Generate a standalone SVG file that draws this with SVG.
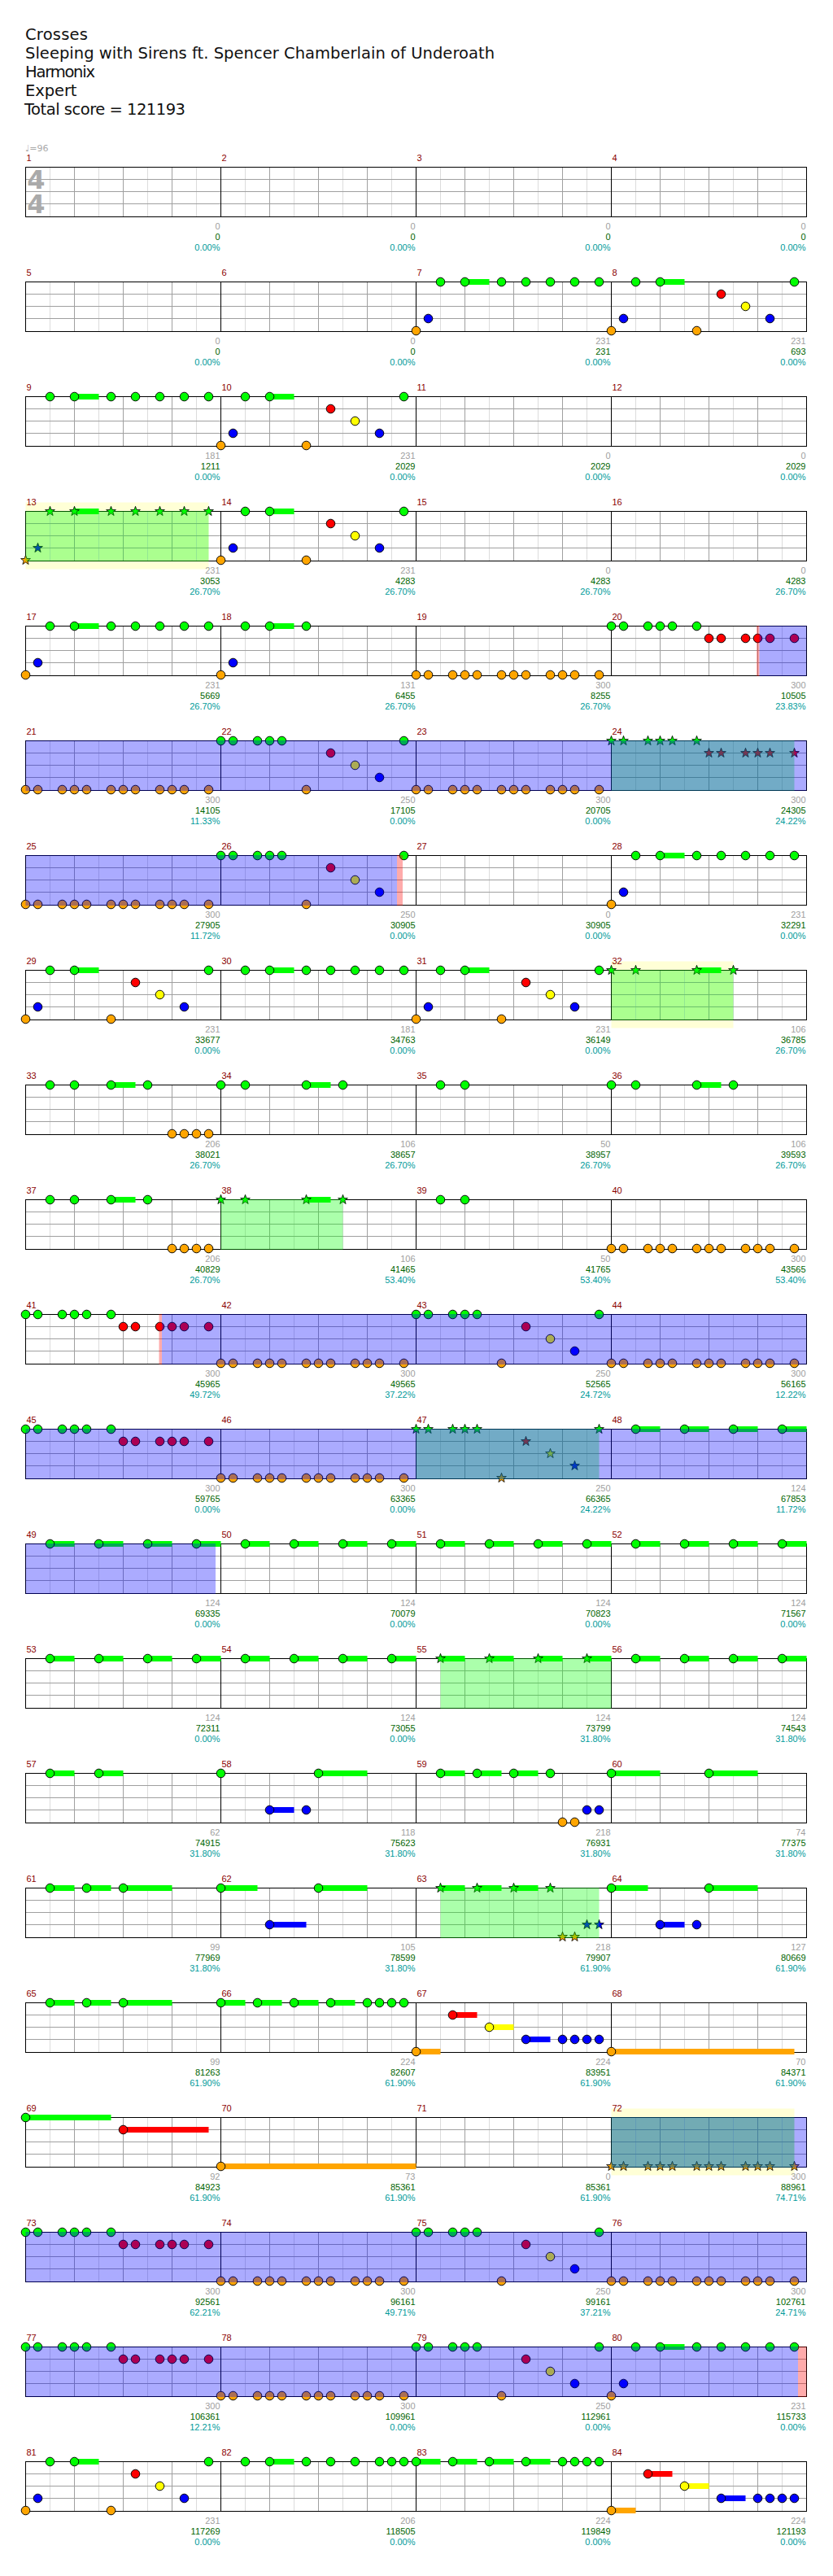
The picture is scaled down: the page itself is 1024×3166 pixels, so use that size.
<svg xmlns="http://www.w3.org/2000/svg" xmlns:xlink="http://www.w3.org/1999/xlink" width="1024" height="3166" viewBox="0 0 1024 3166">
<style>
.mn{font-family:"Liberation Sans",Arial,sans-serif;font-size:11px;fill:#8b0000}
.s1,.s2,.s3{font-family:"Liberation Sans",Arial,sans-serif;font-size:11px;text-anchor:end}
.s1{fill:#a0a0a0}.s2{fill:#006400}.s3{fill:#009b9b}
.sg{fill:#00ff00}.sr{fill:#ff0000}.sy{fill:#ffff00}.sb{fill:#0000ff}.so{fill:#ffa500}
.ovg{fill:#00ff00;fill-opacity:.33}.ovb{fill:#0000ff;fill-opacity:.33}.ovr{fill:#ff0000;fill-opacity:.33}.yl{fill:#ffffd6}
.hd{font-family:"DejaVu Sans",Verdana,sans-serif;font-size:19.5px;fill:#111}
</style>
<defs>
<circle id="G" r="5.3" fill="#00ff00" stroke="#000"/>
<circle id="R" r="5.3" fill="#ff0000" stroke="#000"/>
<circle id="Y" r="5.3" fill="#ffff00" stroke="#000"/>
<circle id="B" r="5.3" fill="#0000ff" stroke="#000"/>
<circle id="O" r="5.3" fill="#ffa500" stroke="#000"/>
<path id="st" d="M0-6.2L1.47-2.02 5.9-1.92 2.38.77 3.64 5.02 0 2.5-3.64 5.02-2.38.77-5.9-1.92-1.47-2.02Z" stroke="#000" stroke-width=".8"/>
<use id="sG" href="#st" fill="#00ff00"/>
<use id="sR" href="#st" fill="#ff0000"/>
<use id="sY" href="#st" fill="#ffff00"/>
<use id="sB" href="#st" fill="#0000ff"/>
<use id="sO" href="#st" fill="#ffa500"/>
<g id="grid">
<path d="M61.5 0V61M121.5 0V61M181.5 0V61M241.5 0V61M301.5 0V61M361.5 0V61M421.5 0V61M481.5 0V61M541.5 0V61M601.5 0V61M661.5 0V61M721.5 0V61M781.5 0V61M841.5 0V61M901.5 0V61M961.5 0V61" stroke="#dcdcdc" fill="none"/>
<path d="M91.5 0V61M151.5 0V61M211.5 0V61M331.5 0V61M391.5 0V61M451.5 0V61M571.5 0V61M631.5 0V61M691.5 0V61M811.5 0V61M871.5 0V61M931.5 0V61M31.5 15H991.5M31.5 30H991.5M31.5 45H991.5" stroke="#a0a0a0" fill="none"/>
<path d="M271.5 0V61M511.5 0V61M751.5 0V61" stroke="#000" fill="none"/>
<rect x="31.5" y="0" width="960" height="61" fill="none" stroke="#000"/>
</g>
<g id="pP1"><rect class="sg" x="60" y="-3.5" width="30" height="7"/><use href="#O" y="60"/><use href="#B" x="15" y="45"/><use href="#G" x="30"/><use href="#G" x="60"/><use href="#G" x="105"/><use href="#G" x="135"/><use href="#G" x="165"/><use href="#G" x="195"/><use href="#G" x="225"/></g>
<g id="pP2"><rect class="sg" x="60" y="-3.5" width="30" height="7"/><use href="#O" y="60"/><use href="#B" x="15" y="45"/><use href="#G" x="30"/><use href="#G" x="60"/><use href="#O" x="105" y="60"/><use href="#R" x="135" y="15"/><use href="#Y" x="165" y="30"/><use href="#B" x="195" y="45"/><use href="#G" x="225"/></g>
<g id="pP3"><rect class="sg" x="60" y="-3.5" width="30" height="7"/><use href="#G" x="30"/><use href="#G" x="60"/><use href="#G" x="105"/><use href="#G" x="135"/><use href="#G" x="165"/><use href="#G" x="195"/><use href="#G" x="225"/></g>
<g id="pQ"><use href="#O" y="60"/><use href="#O" x="15" y="60"/><use href="#O" x="45" y="60"/><use href="#O" x="60" y="60"/><use href="#O" x="75" y="60"/><use href="#O" x="105" y="60"/><use href="#O" x="120" y="60"/><use href="#O" x="135" y="60"/><use href="#O" x="165" y="60"/><use href="#O" x="180" y="60"/><use href="#O" x="195" y="60"/><use href="#O" x="225" y="60"/></g>
<g id="pGR"><use href="#G"/><use href="#G" x="15"/><use href="#G" x="45"/><use href="#G" x="60"/><use href="#G" x="75"/><use href="#G" x="105"/><use href="#R" x="120" y="15"/><use href="#R" x="135" y="15"/><use href="#R" x="165" y="15"/><use href="#R" x="180" y="15"/><use href="#R" x="195" y="15"/><use href="#R" x="225" y="15"/></g>
<g id="pC"><use href="#G"/><use href="#G" x="15"/><use href="#G" x="45"/><use href="#G" x="60"/><use href="#G" x="75"/><use href="#O" x="105" y="60"/><use href="#R" x="135" y="15"/><use href="#Y" x="165" y="30"/><use href="#B" x="195" y="45"/><use href="#G" x="225"/></g>
<g id="pS"><rect class="sg" x="30" y="-3.5" width="30" height="7"/><rect class="sg" x="90" y="-3.5" width="30" height="7"/><rect class="sg" x="150" y="-3.5" width="30" height="7"/><rect class="sg" x="210" y="-3.5" width="30" height="7"/><use href="#G" x="30"/><use href="#G" x="90"/><use href="#G" x="150"/><use href="#G" x="210"/></g>
<g id="pT"><rect class="sg" x="105" y="-3.5" width="30" height="7"/><use href="#G"/><use href="#G" x="30"/><use href="#G" x="105"/><use href="#G" x="150"/></g>
<g id="pU"><rect class="sg" x="105" y="-3.5" width="30" height="7"/><use href="#G" x="30"/><use href="#G" x="60"/><use href="#G" x="105"/><use href="#G" x="150"/><use href="#O" x="180" y="60"/><use href="#O" x="195" y="60"/><use href="#O" x="210" y="60"/><use href="#O" x="225" y="60"/></g>
<g id="pW"><use href="#G" x="30"/><use href="#G" x="60"/></g>
<g id="pV"><rect class="sg" x="30" y="-3.5" width="30" height="7"/><rect class="sg" x="75" y="-3.5" width="30" height="7"/><rect class="sg" x="120" y="-3.5" width="30" height="7"/><use href="#G" x="30"/><use href="#G" x="75"/><use href="#G" x="120"/><use href="#G" x="165"/><use href="#O" x="180" y="60"/><use href="#O" x="195" y="60"/><use href="#B" x="210" y="45"/><use href="#B" x="225" y="45"/></g>
<g id="pM"><rect class="sg" x="30" y="-3.5" width="30" height="7"/><rect class="sg" x="75" y="-3.5" width="30" height="7"/><rect class="sg" x="120" y="-3.5" width="60" height="7"/><use href="#G" x="30"/><use href="#G" x="75"/><use href="#G" x="120"/></g>
<g id="pN"><rect class="sg" x="0" y="-3.5" width="30" height="7"/><rect class="sg" x="45" y="-3.5" width="30" height="7"/><rect class="sg" x="90" y="-3.5" width="30" height="7"/><rect class="sg" x="135" y="-3.5" width="30" height="7"/><use href="#G"/><use href="#G" x="45"/><use href="#G" x="90"/><use href="#G" x="135"/><use href="#G" x="180"/><use href="#G" x="195"/><use href="#G" x="210"/><use href="#G" x="225"/></g>
<g id="pK"><rect class="so" x="0" y="56.5" width="30" height="7"/><rect class="sr" x="45" y="11.5" width="30" height="7"/><rect class="sy" x="90" y="26.5" width="30" height="7"/><rect class="sb" x="135" y="41.5" width="30" height="7"/><use href="#O" y="60"/><use href="#R" x="45" y="15"/><use href="#Y" x="90" y="30"/><use href="#B" x="135" y="45"/><use href="#B" x="180" y="45"/><use href="#B" x="195" y="45"/><use href="#B" x="210" y="45"/><use href="#B" x="225" y="45"/></g>
<g id="sP1"><rect class="sg" x="60" y="-3.5" width="30" height="7"/><use href="#sO" y="60"/><use href="#sB" x="15" y="45"/><use href="#sG" x="30"/><use href="#sG" x="60"/><use href="#sG" x="105"/><use href="#sG" x="135"/><use href="#sG" x="165"/><use href="#sG" x="195"/><use href="#sG" x="225"/></g>
<g id="sGR"><use href="#sG"/><use href="#sG" x="15"/><use href="#sG" x="45"/><use href="#sG" x="60"/><use href="#sG" x="75"/><use href="#sG" x="105"/><use href="#sR" x="120" y="15"/><use href="#sR" x="135" y="15"/><use href="#sR" x="165" y="15"/><use href="#sR" x="180" y="15"/><use href="#sR" x="195" y="15"/><use href="#sR" x="225" y="15"/></g>
<g id="sT"><rect class="sg" x="105" y="-3.5" width="30" height="7"/><use href="#sG"/><use href="#sG" x="30"/><use href="#sG" x="105"/><use href="#sG" x="150"/></g>
<g id="sC"><use href="#sG"/><use href="#sG" x="15"/><use href="#sG" x="45"/><use href="#sG" x="60"/><use href="#sG" x="75"/><use href="#sO" x="105" y="60"/><use href="#sR" x="135" y="15"/><use href="#sY" x="165" y="30"/><use href="#sB" x="195" y="45"/><use href="#sG" x="225"/></g>
<g id="sS"><rect class="sg" x="30" y="-3.5" width="30" height="7"/><rect class="sg" x="90" y="-3.5" width="30" height="7"/><rect class="sg" x="150" y="-3.5" width="30" height="7"/><rect class="sg" x="210" y="-3.5" width="30" height="7"/><use href="#sG" x="30"/><use href="#sG" x="90"/><use href="#sG" x="150"/><use href="#sG" x="210"/></g>
<g id="sV"><rect class="sg" x="30" y="-3.5" width="30" height="7"/><rect class="sg" x="75" y="-3.5" width="30" height="7"/><rect class="sg" x="120" y="-3.5" width="30" height="7"/><use href="#sG" x="30"/><use href="#sG" x="75"/><use href="#sG" x="120"/><use href="#sG" x="165"/><use href="#sO" x="180" y="60"/><use href="#sO" x="195" y="60"/><use href="#sB" x="210" y="45"/><use href="#sB" x="225" y="45"/></g>
<g id="sQ"><use href="#sO" y="60"/><use href="#sO" x="15" y="60"/><use href="#sO" x="45" y="60"/><use href="#sO" x="60" y="60"/><use href="#sO" x="75" y="60"/><use href="#sO" x="105" y="60"/><use href="#sO" x="120" y="60"/><use href="#sO" x="135" y="60"/><use href="#sO" x="165" y="60"/><use href="#sO" x="180" y="60"/><use href="#sO" x="195" y="60"/><use href="#sO" x="225" y="60"/></g>
</defs>
<rect width="1024" height="3166" fill="#fff"/>
<g id="header">
<text class="hd" x="31" y="49" textLength="77" lengthAdjust="spacing">Crosses</text>
<text class="hd" x="31" y="72" textLength="577" lengthAdjust="spacing">Sleeping with Sirens ft. Spencer Chamberlain of Underoath</text>
<text class="hd" x="31" y="95" textLength="86" lengthAdjust="spacing">Harmonix</text>
<text class="hd" x="31" y="118" textLength="63.5" lengthAdjust="spacing">Expert</text>
<text class="hd" x="30" y="141" textLength="198" lengthAdjust="spacing">Total score = 121193</text>
</g>

<g id="row1" transform="translate(0,205.5)">
<use href="#grid"/>
<text x="31" y="-20" font-family="'DejaVu Sans',sans-serif" font-size="11" fill="#aaa">♩=96</text>
<text id="timesig" x="44.5" y="26" font-family="'DejaVu Sans',sans-serif" font-size="32" font-weight="bold" fill="#aaa" text-anchor="middle">4<tspan x="44.5" dy="30.5">4</tspan></text>
<g id="m1" transform="translate(31.5,0)"><text class="mn" x="1" y="-7.5">1</text><text class="s1" x="239" y="76">0</text><text class="s2" x="239" y="89.5">0</text><text class="s3" x="239" y="102.5">0.00%</text></g>
<g id="m2" transform="translate(271.5,0)"><text class="mn" x="1" y="-7.5">2</text><text class="s1" x="239" y="76">0</text><text class="s2" x="239" y="89.5">0</text><text class="s3" x="239" y="102.5">0.00%</text></g>
<g id="m3" transform="translate(511.5,0)"><text class="mn" x="1" y="-7.5">3</text><text class="s1" x="239" y="76">0</text><text class="s2" x="239" y="89.5">0</text><text class="s3" x="239" y="102.5">0.00%</text></g>
<g id="m4" transform="translate(751.5,0)"><text class="mn" x="1" y="-7.5">4</text><text class="s1" x="239" y="76">0</text><text class="s2" x="239" y="89.5">0</text><text class="s3" x="239" y="102.5">0.00%</text></g>
</g>

<g id="row2" transform="translate(0,346.5)">
<use href="#grid"/>
<g id="m5" transform="translate(31.5,0)"><text class="mn" x="1" y="-7.5">5</text><text class="s1" x="239" y="76">0</text><text class="s2" x="239" y="89.5">0</text><text class="s3" x="239" y="102.5">0.00%</text></g>
<g id="m6" transform="translate(271.5,0)"><text class="mn" x="1" y="-7.5">6</text><text class="s1" x="239" y="76">0</text><text class="s2" x="239" y="89.5">0</text><text class="s3" x="239" y="102.5">0.00%</text></g>
<g id="m7" transform="translate(511.5,0)"><use href="#pP1"/><text class="mn" x="1" y="-7.5">7</text><text class="s1" x="239" y="76">231</text><text class="s2" x="239" y="89.5">231</text><text class="s3" x="239" y="102.5">0.00%</text></g>
<g id="m8" transform="translate(751.5,0)"><use href="#pP2"/><text class="mn" x="1" y="-7.5">8</text><text class="s1" x="239" y="76">231</text><text class="s2" x="239" y="89.5">693</text><text class="s3" x="239" y="102.5">0.00%</text></g>
</g>

<g id="row3" transform="translate(0,487.5)">
<use href="#grid"/>
<g id="m9" transform="translate(31.5,0)"><use href="#pP3"/><text class="mn" x="1" y="-7.5">9</text><text class="s1" x="239" y="76">181</text><text class="s2" x="239" y="89.5">1211</text><text class="s3" x="239" y="102.5">0.00%</text></g>
<g id="m10" transform="translate(271.5,0)"><use href="#pP2"/><text class="mn" x="1" y="-7.5">10</text><text class="s1" x="239" y="76">231</text><text class="s2" x="239" y="89.5">2029</text><text class="s3" x="239" y="102.5">0.00%</text></g>
<g id="m11" transform="translate(511.5,0)"><text class="mn" x="1" y="-7.5">11</text><text class="s1" x="239" y="76">0</text><text class="s2" x="239" y="89.5">2029</text><text class="s3" x="239" y="102.5">0.00%</text></g>
<g id="m12" transform="translate(751.5,0)"><text class="mn" x="1" y="-7.5">12</text><text class="s1" x="239" y="76">0</text><text class="s2" x="239" y="89.5">2029</text><text class="s3" x="239" y="102.5">0.00%</text></g>
</g>

<g id="row4" transform="translate(0,628.5)">
<rect class="yl" x="31.5" y="-11" width="225" height="82"/>
<use href="#grid"/>
<g id="m13" transform="translate(31.5,0)"><use href="#sP1"/><text class="mn" x="1" y="-7.5">13</text><text class="s1" x="239" y="76">231</text><text class="s2" x="239" y="89.5">3053</text><text class="s3" x="239" y="102.5">26.70%</text></g>
<g id="m14" transform="translate(271.5,0)"><use href="#pP2"/><text class="mn" x="1" y="-7.5">14</text><text class="s1" x="239" y="76">231</text><text class="s2" x="239" y="89.5">4283</text><text class="s3" x="239" y="102.5">26.70%</text></g>
<g id="m15" transform="translate(511.5,0)"><text class="mn" x="1" y="-7.5">15</text><text class="s1" x="239" y="76">0</text><text class="s2" x="239" y="89.5">4283</text><text class="s3" x="239" y="102.5">26.70%</text></g>
<g id="m16" transform="translate(751.5,0)"><text class="mn" x="1" y="-7.5">16</text><text class="s1" x="239" y="76">0</text><text class="s2" x="239" y="89.5">4283</text><text class="s3" x="239" y="102.5">26.70%</text></g>
<rect class="ovg" x="31.5" y="-0.5" width="225" height="62"/>
</g>

<g id="row5" transform="translate(0,769.5)">
<use href="#grid"/>
<g id="m17" transform="translate(31.5,0)"><use href="#pP1"/><text class="mn" x="1" y="-7.5">17</text><text class="s1" x="239" y="76">231</text><text class="s2" x="239" y="89.5">5669</text><text class="s3" x="239" y="102.5">26.70%</text></g>
<g id="m18" transform="translate(271.5,0)"><rect class="sg" x="60" y="-3.5" width="30" height="7"/><use href="#O" y="60"/><use href="#B" x="15" y="45"/><use href="#G" x="30"/><use href="#G" x="60"/><use href="#G" x="105"/><text class="mn" x="1" y="-7.5">18</text><text class="s1" x="239" y="76">131</text><text class="s2" x="239" y="89.5">6455</text><text class="s3" x="239" y="102.5">26.70%</text></g>
<g id="m19" transform="translate(511.5,0)"><use href="#pQ"/><text class="mn" x="1" y="-7.5">19</text><text class="s1" x="239" y="76">300</text><text class="s2" x="239" y="89.5">8255</text><text class="s3" x="239" y="102.5">26.70%</text></g>
<g id="m20" transform="translate(751.5,0)"><use href="#pGR"/><text class="mn" x="1" y="-7.5">20</text><text class="s1" x="239" y="76">300</text><text class="s2" x="239" y="89.5">10505</text><text class="s3" x="239" y="102.5">23.83%</text></g>
<rect class="ovr" x="930" y="-0.5" width="3.5" height="62"/>
<rect class="ovb" x="933.5" y="-0.5" width="58" height="62"/>
</g>

<g id="row6" transform="translate(0,910.5)">
<use href="#grid"/>
<g id="m21" transform="translate(31.5,0)"><use href="#pQ"/><text class="mn" x="1" y="-7.5">21</text><text class="s1" x="239" y="76">300</text><text class="s2" x="239" y="89.5">14105</text><text class="s3" x="239" y="102.5">11.33%</text></g>
<g id="m22" transform="translate(271.5,0)"><use href="#pC"/><text class="mn" x="1" y="-7.5">22</text><text class="s1" x="239" y="76">250</text><text class="s2" x="239" y="89.5">17105</text><text class="s3" x="239" y="102.5">0.00%</text></g>
<g id="m23" transform="translate(511.5,0)"><use href="#pQ"/><text class="mn" x="1" y="-7.5">23</text><text class="s1" x="239" y="76">300</text><text class="s2" x="239" y="89.5">20705</text><text class="s3" x="239" y="102.5">0.00%</text></g>
<g id="m24" transform="translate(751.5,0)"><use href="#sGR"/><text class="mn" x="1" y="-7.5">24</text><text class="s1" x="239" y="76">300</text><text class="s2" x="239" y="89.5">24305</text><text class="s3" x="239" y="102.5">24.22%</text></g>
<rect class="ovg" x="751.5" y="-0.5" width="225" height="62"/>
<rect class="ovb" x="31.5" y="-0.5" width="960" height="62"/>
</g>

<g id="row7" transform="translate(0,1051.5)">
<use href="#grid"/>
<g id="m25" transform="translate(31.5,0)"><use href="#pQ"/><text class="mn" x="1" y="-7.5">25</text><text class="s1" x="239" y="76">300</text><text class="s2" x="239" y="89.5">27905</text><text class="s3" x="239" y="102.5">11.72%</text></g>
<g id="m26" transform="translate(271.5,0)"><use href="#pC"/><text class="mn" x="1" y="-7.5">26</text><text class="s1" x="239" y="76">250</text><text class="s2" x="239" y="89.5">30905</text><text class="s3" x="239" y="102.5">0.00%</text></g>
<g id="m27" transform="translate(511.5,0)"><text class="mn" x="1" y="-7.5">27</text><text class="s1" x="239" y="76">0</text><text class="s2" x="239" y="89.5">30905</text><text class="s3" x="239" y="102.5">0.00%</text></g>
<g id="m28" transform="translate(751.5,0)"><use href="#pP1"/><text class="mn" x="1" y="-7.5">28</text><text class="s1" x="239" y="76">231</text><text class="s2" x="239" y="89.5">32291</text><text class="s3" x="239" y="102.5">0.00%</text></g>
<rect class="ovb" x="31.5" y="-0.5" width="456.5" height="62"/>
<rect class="ovr" x="488" y="-0.5" width="7" height="62"/>
</g>

<g id="row8" transform="translate(0,1192.5)">
<rect class="yl" x="751.5" y="-11" width="150" height="82"/>
<use href="#grid"/>
<g id="m29" transform="translate(31.5,0)"><use href="#pP2"/><text class="mn" x="1" y="-7.5">29</text><text class="s1" x="239" y="76">231</text><text class="s2" x="239" y="89.5">33677</text><text class="s3" x="239" y="102.5">0.00%</text></g>
<g id="m30" transform="translate(271.5,0)"><use href="#pP3"/><text class="mn" x="1" y="-7.5">30</text><text class="s1" x="239" y="76">181</text><text class="s2" x="239" y="89.5">34763</text><text class="s3" x="239" y="102.5">0.00%</text></g>
<g id="m31" transform="translate(511.5,0)"><use href="#pP2"/><text class="mn" x="1" y="-7.5">31</text><text class="s1" x="239" y="76">231</text><text class="s2" x="239" y="89.5">36149</text><text class="s3" x="239" y="102.5">0.00%</text></g>
<g id="m32" transform="translate(751.5,0)"><use href="#sT"/><text class="mn" x="1" y="-7.5">32</text><text class="s1" x="239" y="76">106</text><text class="s2" x="239" y="89.5">36785</text><text class="s3" x="239" y="102.5">26.70%</text></g>
<rect class="ovg" x="751.5" y="-0.5" width="150" height="62"/>
</g>

<g id="row9" transform="translate(0,1333.5)">
<use href="#grid"/>
<g id="m33" transform="translate(31.5,0)"><use href="#pU"/><text class="mn" x="1" y="-7.5">33</text><text class="s1" x="239" y="76">206</text><text class="s2" x="239" y="89.5">38021</text><text class="s3" x="239" y="102.5">26.70%</text></g>
<g id="m34" transform="translate(271.5,0)"><use href="#pT"/><text class="mn" x="1" y="-7.5">34</text><text class="s1" x="239" y="76">106</text><text class="s2" x="239" y="89.5">38657</text><text class="s3" x="239" y="102.5">26.70%</text></g>
<g id="m35" transform="translate(511.5,0)"><use href="#pW"/><text class="mn" x="1" y="-7.5">35</text><text class="s1" x="239" y="76">50</text><text class="s2" x="239" y="89.5">38957</text><text class="s3" x="239" y="102.5">26.70%</text></g>
<g id="m36" transform="translate(751.5,0)"><use href="#pT"/><text class="mn" x="1" y="-7.5">36</text><text class="s1" x="239" y="76">106</text><text class="s2" x="239" y="89.5">39593</text><text class="s3" x="239" y="102.5">26.70%</text></g>
</g>

<g id="row10" transform="translate(0,1474.5)">
<use href="#grid"/>
<g id="m37" transform="translate(31.5,0)"><use href="#pU"/><text class="mn" x="1" y="-7.5">37</text><text class="s1" x="239" y="76">206</text><text class="s2" x="239" y="89.5">40829</text><text class="s3" x="239" y="102.5">26.70%</text></g>
<g id="m38" transform="translate(271.5,0)"><use href="#sT"/><text class="mn" x="1" y="-7.5">38</text><text class="s1" x="239" y="76">106</text><text class="s2" x="239" y="89.5">41465</text><text class="s3" x="239" y="102.5">53.40%</text></g>
<g id="m39" transform="translate(511.5,0)"><use href="#pW"/><text class="mn" x="1" y="-7.5">39</text><text class="s1" x="239" y="76">50</text><text class="s2" x="239" y="89.5">41765</text><text class="s3" x="239" y="102.5">53.40%</text></g>
<g id="m40" transform="translate(751.5,0)"><use href="#pQ"/><text class="mn" x="1" y="-7.5">40</text><text class="s1" x="239" y="76">300</text><text class="s2" x="239" y="89.5">43565</text><text class="s3" x="239" y="102.5">53.40%</text></g>
<rect class="ovg" x="271.5" y="-0.5" width="150" height="62"/>
</g>

<g id="row11" transform="translate(0,1615.5)">
<use href="#grid"/>
<g id="m41" transform="translate(31.5,0)"><use href="#pGR"/><text class="mn" x="1" y="-7.5">41</text><text class="s1" x="239" y="76">300</text><text class="s2" x="239" y="89.5">45965</text><text class="s3" x="239" y="102.5">49.72%</text></g>
<g id="m42" transform="translate(271.5,0)"><use href="#pQ"/><text class="mn" x="1" y="-7.5">42</text><text class="s1" x="239" y="76">300</text><text class="s2" x="239" y="89.5">49565</text><text class="s3" x="239" y="102.5">37.22%</text></g>
<g id="m43" transform="translate(511.5,0)"><use href="#pC"/><text class="mn" x="1" y="-7.5">43</text><text class="s1" x="239" y="76">250</text><text class="s2" x="239" y="89.5">52565</text><text class="s3" x="239" y="102.5">24.72%</text></g>
<g id="m44" transform="translate(751.5,0)"><use href="#pQ"/><text class="mn" x="1" y="-7.5">44</text><text class="s1" x="239" y="76">300</text><text class="s2" x="239" y="89.5">56165</text><text class="s3" x="239" y="102.5">12.22%</text></g>
<rect class="ovr" x="195.5" y="-0.5" width="3.5" height="62"/>
<rect class="ovb" x="199" y="-0.5" width="792.5" height="62"/>
</g>

<g id="row12" transform="translate(0,1756.5)">
<use href="#grid"/>
<g id="m45" transform="translate(31.5,0)"><use href="#pGR"/><text class="mn" x="1" y="-7.5">45</text><text class="s1" x="239" y="76">300</text><text class="s2" x="239" y="89.5">59765</text><text class="s3" x="239" y="102.5">0.00%</text></g>
<g id="m46" transform="translate(271.5,0)"><use href="#pQ"/><text class="mn" x="1" y="-7.5">46</text><text class="s1" x="239" y="76">300</text><text class="s2" x="239" y="89.5">63365</text><text class="s3" x="239" y="102.5">0.00%</text></g>
<g id="m47" transform="translate(511.5,0)"><use href="#sC"/><text class="mn" x="1" y="-7.5">47</text><text class="s1" x="239" y="76">250</text><text class="s2" x="239" y="89.5">66365</text><text class="s3" x="239" y="102.5">24.22%</text></g>
<g id="m48" transform="translate(751.5,0)"><use href="#pS"/><text class="mn" x="1" y="-7.5">48</text><text class="s1" x="239" y="76">124</text><text class="s2" x="239" y="89.5">67853</text><text class="s3" x="239" y="102.5">11.72%</text></g>
<rect class="ovg" x="511.5" y="-0.5" width="225" height="62"/>
<rect class="ovb" x="31.5" y="-0.5" width="960" height="62"/>
</g>

<g id="row13" transform="translate(0,1897.5)">
<use href="#grid"/>
<g id="m49" transform="translate(31.5,0)"><use href="#pS"/><text class="mn" x="1" y="-7.5">49</text><text class="s1" x="239" y="76">124</text><text class="s2" x="239" y="89.5">69335</text><text class="s3" x="239" y="102.5">0.00%</text></g>
<g id="m50" transform="translate(271.5,0)"><use href="#pS"/><text class="mn" x="1" y="-7.5">50</text><text class="s1" x="239" y="76">124</text><text class="s2" x="239" y="89.5">70079</text><text class="s3" x="239" y="102.5">0.00%</text></g>
<g id="m51" transform="translate(511.5,0)"><use href="#pS"/><text class="mn" x="1" y="-7.5">51</text><text class="s1" x="239" y="76">124</text><text class="s2" x="239" y="89.5">70823</text><text class="s3" x="239" y="102.5">0.00%</text></g>
<g id="m52" transform="translate(751.5,0)"><use href="#pS"/><text class="mn" x="1" y="-7.5">52</text><text class="s1" x="239" y="76">124</text><text class="s2" x="239" y="89.5">71567</text><text class="s3" x="239" y="102.5">0.00%</text></g>
<rect class="ovb" x="31.5" y="-0.5" width="233.5" height="62"/>
</g>

<g id="row14" transform="translate(0,2038.5)">
<use href="#grid"/>
<g id="m53" transform="translate(31.5,0)"><use href="#pS"/><text class="mn" x="1" y="-7.5">53</text><text class="s1" x="239" y="76">124</text><text class="s2" x="239" y="89.5">72311</text><text class="s3" x="239" y="102.5">0.00%</text></g>
<g id="m54" transform="translate(271.5,0)"><use href="#pS"/><text class="mn" x="1" y="-7.5">54</text><text class="s1" x="239" y="76">124</text><text class="s2" x="239" y="89.5">73055</text><text class="s3" x="239" y="102.5">0.00%</text></g>
<g id="m55" transform="translate(511.5,0)"><use href="#sS"/><text class="mn" x="1" y="-7.5">55</text><text class="s1" x="239" y="76">124</text><text class="s2" x="239" y="89.5">73799</text><text class="s3" x="239" y="102.5">31.80%</text></g>
<g id="m56" transform="translate(751.5,0)"><use href="#pS"/><text class="mn" x="1" y="-7.5">56</text><text class="s1" x="239" y="76">124</text><text class="s2" x="239" y="89.5">74543</text><text class="s3" x="239" y="102.5">31.80%</text></g>
<rect class="ovg" x="541.5" y="-0.5" width="210" height="62"/>
</g>

<g id="row15" transform="translate(0,2179.5)">
<use href="#grid"/>
<g id="m57" transform="translate(31.5,0)"><rect class="sg" x="30" y="-3.5" width="30" height="7"/><rect class="sg" x="90" y="-3.5" width="30" height="7"/><use href="#G" x="30"/><use href="#G" x="90"/><text class="mn" x="1" y="-7.5">57</text><text class="s1" x="239" y="76">62</text><text class="s2" x="239" y="89.5">74915</text><text class="s3" x="239" y="102.5">31.80%</text></g>
<g id="m58" transform="translate(271.5,0)"><rect class="sg" x="120" y="-3.5" width="60" height="7"/><rect class="sb" x="60" y="41.5" width="30" height="7"/><use href="#G"/><use href="#G" x="120"/><use href="#B" x="60" y="45"/><use href="#B" x="105" y="45"/><text class="mn" x="1" y="-7.5">58</text><text class="s1" x="239" y="76">118</text><text class="s2" x="239" y="89.5">75623</text><text class="s3" x="239" y="102.5">31.80%</text></g>
<g id="m59" transform="translate(511.5,0)"><use href="#pV"/><text class="mn" x="1" y="-7.5">59</text><text class="s1" x="239" y="76">218</text><text class="s2" x="239" y="89.5">76931</text><text class="s3" x="239" y="102.5">31.80%</text></g>
<g id="m60" transform="translate(751.5,0)"><rect class="sg" x="0" y="-3.5" width="60" height="7"/><rect class="sg" x="120" y="-3.5" width="60" height="7"/><use href="#G"/><use href="#G" x="120"/><text class="mn" x="1" y="-7.5">60</text><text class="s1" x="239" y="76">74</text><text class="s2" x="239" y="89.5">77375</text><text class="s3" x="239" y="102.5">31.80%</text></g>
</g>

<g id="row16" transform="translate(0,2320.5)">
<use href="#grid"/>
<g id="m61" transform="translate(31.5,0)"><use href="#pM"/><text class="mn" x="1" y="-7.5">61</text><text class="s1" x="239" y="76">99</text><text class="s2" x="239" y="89.5">77969</text><text class="s3" x="239" y="102.5">31.80%</text></g>
<g id="m62" transform="translate(271.5,0)"><rect class="sg" x="0" y="-3.5" width="45" height="7"/><rect class="sg" x="120" y="-3.5" width="60" height="7"/><rect class="sb" x="60" y="41.5" width="45" height="7"/><use href="#G"/><use href="#G" x="120"/><use href="#B" x="60" y="45"/><text class="mn" x="1" y="-7.5">62</text><text class="s1" x="239" y="76">105</text><text class="s2" x="239" y="89.5">78599</text><text class="s3" x="239" y="102.5">31.80%</text></g>
<g id="m63" transform="translate(511.5,0)"><use href="#sV"/><text class="mn" x="1" y="-7.5">63</text><text class="s1" x="239" y="76">218</text><text class="s2" x="239" y="89.5">79907</text><text class="s3" x="239" y="102.5">61.90%</text></g>
<g id="m64" transform="translate(751.5,0)"><rect class="sg" x="0" y="-3.5" width="45" height="7"/><rect class="sg" x="120" y="-3.5" width="60" height="7"/><rect class="sb" x="60" y="41.5" width="30" height="7"/><use href="#G"/><use href="#G" x="120"/><use href="#B" x="60" y="45"/><use href="#B" x="105" y="45"/><text class="mn" x="1" y="-7.5">64</text><text class="s1" x="239" y="76">127</text><text class="s2" x="239" y="89.5">80669</text><text class="s3" x="239" y="102.5">61.90%</text></g>
<rect class="ovg" x="541.5" y="-0.5" width="195" height="62"/>
</g>

<g id="row17" transform="translate(0,2461.5)">
<use href="#grid"/>
<g id="m65" transform="translate(31.5,0)"><use href="#pM"/><text class="mn" x="1" y="-7.5">65</text><text class="s1" x="239" y="76">99</text><text class="s2" x="239" y="89.5">81263</text><text class="s3" x="239" y="102.5">61.90%</text></g>
<g id="m66" transform="translate(271.5,0)"><use href="#pN"/><text class="mn" x="1" y="-7.5">66</text><text class="s1" x="239" y="76">224</text><text class="s2" x="239" y="89.5">82607</text><text class="s3" x="239" y="102.5">61.90%</text></g>
<g id="m67" transform="translate(511.5,0)"><use href="#pK"/><text class="mn" x="1" y="-7.5">67</text><text class="s1" x="239" y="76">224</text><text class="s2" x="239" y="89.5">83951</text><text class="s3" x="239" y="102.5">61.90%</text></g>
<g id="m68" transform="translate(751.5,0)"><rect class="so" x="0" y="56.5" width="225" height="7"/><use href="#O" y="60"/><text class="mn" x="1" y="-7.5">68</text><text class="s1" x="239" y="76">70</text><text class="s2" x="239" y="89.5">84371</text><text class="s3" x="239" y="102.5">61.90%</text></g>
</g>

<g id="row18" transform="translate(0,2602.5)">
<rect class="yl" x="751.5" y="-11" width="225" height="82"/>
<use href="#grid"/>
<g id="m69" transform="translate(31.5,0)"><rect class="sg" x="0" y="-3.5" width="105" height="7"/><rect class="sr" x="120" y="11.5" width="105" height="7"/><use href="#G"/><use href="#R" x="120" y="15"/><text class="mn" x="1" y="-7.5">69</text><text class="s1" x="239" y="76">92</text><text class="s2" x="239" y="89.5">84923</text><text class="s3" x="239" y="102.5">61.90%</text></g>
<g id="m70" transform="translate(271.5,0)"><rect class="so" x="0" y="56.5" width="240" height="7"/><use href="#O" y="60"/><text class="mn" x="1" y="-7.5">70</text><text class="s1" x="239" y="76">73</text><text class="s2" x="239" y="89.5">85361</text><text class="s3" x="239" y="102.5">61.90%</text></g>
<g id="m71" transform="translate(511.5,0)"><text class="mn" x="1" y="-7.5">71</text><text class="s1" x="239" y="76">0</text><text class="s2" x="239" y="89.5">85361</text><text class="s3" x="239" y="102.5">61.90%</text></g>
<g id="m72" transform="translate(751.5,0)"><use href="#sQ"/><text class="mn" x="1" y="-7.5">72</text><text class="s1" x="239" y="76">300</text><text class="s2" x="239" y="89.5">88961</text><text class="s3" x="239" y="102.5">74.71%</text></g>
<rect class="ovg" x="751.5" y="-0.5" width="225" height="62"/>
<rect class="ovb" x="751.5" y="-0.5" width="240" height="62"/>
</g>

<g id="row19" transform="translate(0,2743.5)">
<use href="#grid"/>
<g id="m73" transform="translate(31.5,0)"><use href="#pGR"/><text class="mn" x="1" y="-7.5">73</text><text class="s1" x="239" y="76">300</text><text class="s2" x="239" y="89.5">92561</text><text class="s3" x="239" y="102.5">62.21%</text></g>
<g id="m74" transform="translate(271.5,0)"><use href="#pQ"/><text class="mn" x="1" y="-7.5">74</text><text class="s1" x="239" y="76">300</text><text class="s2" x="239" y="89.5">96161</text><text class="s3" x="239" y="102.5">49.71%</text></g>
<g id="m75" transform="translate(511.5,0)"><use href="#pC"/><text class="mn" x="1" y="-7.5">75</text><text class="s1" x="239" y="76">250</text><text class="s2" x="239" y="89.5">99161</text><text class="s3" x="239" y="102.5">37.21%</text></g>
<g id="m76" transform="translate(751.5,0)"><use href="#pQ"/><text class="mn" x="1" y="-7.5">76</text><text class="s1" x="239" y="76">300</text><text class="s2" x="239" y="89.5">102761</text><text class="s3" x="239" y="102.5">24.71%</text></g>
<rect class="ovb" x="31.5" y="-0.5" width="960" height="62"/>
</g>

<g id="row20" transform="translate(0,2884.5)">
<use href="#grid"/>
<g id="m77" transform="translate(31.5,0)"><use href="#pGR"/><text class="mn" x="1" y="-7.5">77</text><text class="s1" x="239" y="76">300</text><text class="s2" x="239" y="89.5">106361</text><text class="s3" x="239" y="102.5">12.21%</text></g>
<g id="m78" transform="translate(271.5,0)"><use href="#pQ"/><text class="mn" x="1" y="-7.5">78</text><text class="s1" x="239" y="76">300</text><text class="s2" x="239" y="89.5">109961</text><text class="s3" x="239" y="102.5">0.00%</text></g>
<g id="m79" transform="translate(511.5,0)"><use href="#pC"/><text class="mn" x="1" y="-7.5">79</text><text class="s1" x="239" y="76">250</text><text class="s2" x="239" y="89.5">112961</text><text class="s3" x="239" y="102.5">0.00%</text></g>
<g id="m80" transform="translate(751.5,0)"><use href="#pP1"/><text class="mn" x="1" y="-7.5">80</text><text class="s1" x="239" y="76">231</text><text class="s2" x="239" y="89.5">115733</text><text class="s3" x="239" y="102.5">0.00%</text></g>
<rect class="ovb" x="31.5" y="-0.5" width="949.5" height="62"/>
<rect class="ovr" x="981" y="-0.5" width="10.5" height="62"/>
</g>

<g id="row21" transform="translate(0,3025.5)">
<use href="#grid"/>
<g id="m81" transform="translate(31.5,0)"><use href="#pP2"/><text class="mn" x="1" y="-7.5">81</text><text class="s1" x="239" y="76">231</text><text class="s2" x="239" y="89.5">117269</text><text class="s3" x="239" y="102.5">0.00%</text></g>
<g id="m82" transform="translate(271.5,0)"><use href="#pP3"/><use href="#G" x="210"/><text class="mn" x="1" y="-7.5">82</text><text class="s1" x="239" y="76">206</text><text class="s2" x="239" y="89.5">118505</text><text class="s3" x="239" y="102.5">0.00%</text></g>
<g id="m83" transform="translate(511.5,0)"><use href="#pN"/><text class="mn" x="1" y="-7.5">83</text><text class="s1" x="239" y="76">224</text><text class="s2" x="239" y="89.5">119849</text><text class="s3" x="239" y="102.5">0.00%</text></g>
<g id="m84" transform="translate(751.5,0)"><use href="#pK"/><text class="mn" x="1" y="-7.5">84</text><text class="s1" x="239" y="76">224</text><text class="s2" x="239" y="89.5">121193</text><text class="s3" x="239" y="102.5">0.00%</text></g>
</g>
</svg>
